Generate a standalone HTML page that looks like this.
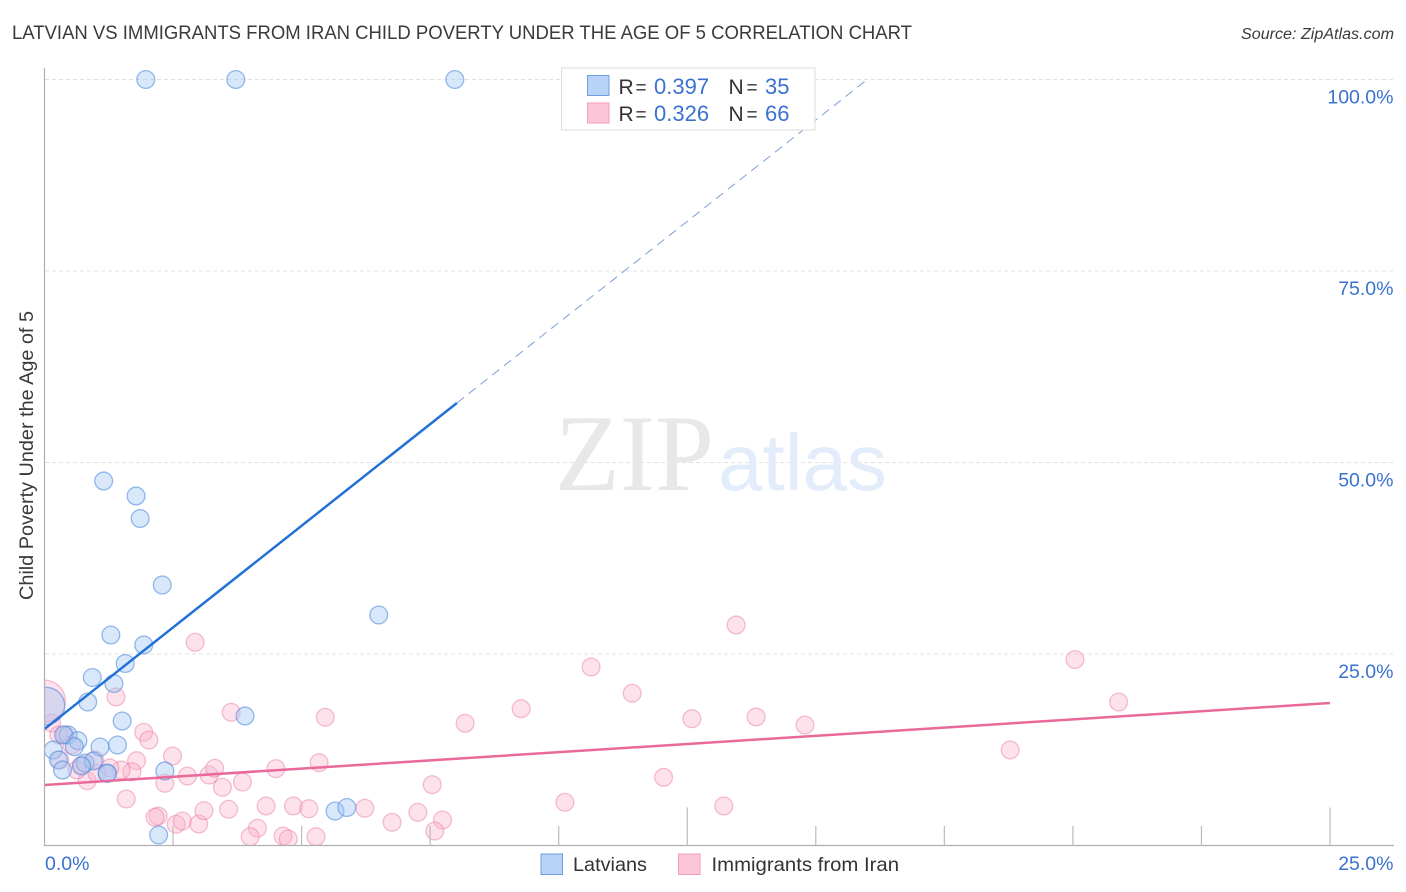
<!DOCTYPE html>
<html lang="en">
<head>
<meta charset="utf-8">
<title>Latvian vs Immigrants from Iran Child Poverty Correlation Chart</title>
<style>
html,body{margin:0;padding:0;background:#fff;}
svg{display:block;font-family:"Liberation Sans",sans-serif;}
</style>
</head>
<body>
<svg id="chart" xmlns="http://www.w3.org/2000/svg" width="1406" height="892" viewBox="0 0 1406 892">
  <defs>
    <clipPath id="plot-clip"><rect x="44.5" y="60" width="1350" height="785.5"/></clipPath>
  </defs>
  <rect x="0" y="0" width="1406" height="892" fill="#fff"/>
  <text x="12" y="39" font-size="19" fill="#3a3a3a" textLength="900" lengthAdjust="spacingAndGlyphs">LATVIAN VS IMMIGRANTS FROM IRAN CHILD POVERTY UNDER THE AGE OF 5 CORRELATION CHART</text>
  <text x="1241" y="39" font-size="15.5" font-style="italic" fill="#3a3a3a" textLength="153" lengthAdjust="spacingAndGlyphs">Source: ZipAtlas.com</text>
  <g id="grid"></g>
  <g>
    <text x="555" y="490" font-family="'Liberation Serif',serif" font-size="109" fill="#e8e8e8" textLength="159" lengthAdjust="spacingAndGlyphs">ZIP</text>
    <text x="718" y="490" font-size="80" fill="#e3ecfa" textLength="169" lengthAdjust="spacingAndGlyphs">atlas</text>
  </g>
  <g id="points" clip-path="url(#plot-clip)"></g>
  <g id="trends"></g>
  <g id="axes"></g>
  <text transform="translate(33,600) rotate(-90)" font-size="19" fill="#3a3a3a" textLength="289" lengthAdjust="spacingAndGlyphs">Child Poverty Under the Age of 5</text>

  <g>
    <rect x="561.5" y="68" width="253.5" height="62" fill="#fff" stroke="#ddd" stroke-width="1"/>
    <rect x="587.5" y="75.5" width="21.5" height="20" fill="#b9d3f7" stroke="#6b9fdf" stroke-width="1"/>
    <text y="94" font-size="21" fill="#333"><tspan x="618.5">R</tspan><tspan x="635.5" font-size="19">=</tspan></text>
    <text x="654" y="94" font-size="22" fill="#3a72d0">0.397</text>
    <text y="94" font-size="21" fill="#333"><tspan x="728.5">N</tspan><tspan x="746.5" font-size="19">=</tspan></text>
    <text x="765" y="94" font-size="22" fill="#3a72d0">35</text>
    <rect x="587.5" y="103" width="21.5" height="20" fill="#fcc6d8" stroke="#f29dbb" stroke-width="1"/>
    <text y="121" font-size="21" fill="#333"><tspan x="618.5">R</tspan><tspan x="635.5" font-size="19">=</tspan></text>
    <text x="654" y="121" font-size="22" fill="#3a72d0">0.326</text>
    <text y="121" font-size="21" fill="#333"><tspan x="728.5">N</tspan><tspan x="746.5" font-size="19">=</tspan></text>
    <text x="765" y="121" font-size="22" fill="#3a72d0">66</text>
  </g>

  <g>
    <g>
      <rect x="541" y="854" width="21.5" height="20.5" fill="#b9d3f7" stroke="#6b9fdf" stroke-width="1"/>
      <text x="573" y="871" font-size="19.5" fill="#333" textLength="74" lengthAdjust="spacingAndGlyphs">Latvians</text>
    </g>
    <g>
      <rect x="678.5" y="854" width="21.5" height="20.5" fill="#fcc6d8" stroke="#f29dbb" stroke-width="1"/>
      <text x="711.5" y="871" font-size="19.5" fill="#333" textLength="187.5" lengthAdjust="spacingAndGlyphs">Immigrants from Iran</text>
    </g>
  </g>
</svg>
<script>
const latvianX = [1.97,3.72,7.98,1.15,1.78,1.86,2.29,6.50,1.29,1.93,1.57,0.93,1.35,0.84,0.03,1.51,3.90,1.42,1.08,0.46,0.37,0.65,0.58,0.17,0.27,0.35,0.79,0.95,0.72,1.22,1.22,2.34,5.65,5.88,2.22];
const latvianY = [100,100,100,47.59,45.63,42.69,34.01,30.09,27.48,26.18,23.76,21.93,21.15,18.73,18.21,16.25,16.91,13.12,12.86,14.43,14.43,13.68,12.90,12.47,11.16,9.86,10.77,11.03,10.38,9.46,9.40,9.73,4.50,4.96,1.37];
const latvianWeight = [1,1,1,1,1,1,1,1,1,1,1,1,1,1,2.1,1,1,1,1,1,1,1,1,1,1,1,1,1,1,1,1,1,1,1,1];

const iranX = [2.49,1.79,1.70,2.34,2.78,3.20,3.31,3.46,3.85,4.50,5.34,1.59,2.21,2.15,2.56,2.68,3.00,3.10,3.58,4.31,4.84,5.14,4.14,4.00,4.64,4.74,5.28,2.93,1.39,3.63,5.46,1.93,2.03,1.49,1.27,0.83,0.63,1.02,0.14,0.28,0.40,0.53,0.30,0.72,0.98,0.00,8.18,9.27,10.63,11.43,12.59,12.04,10.12,7.54,6.23,6.76,7.26,7.74,7.59,13.45,13.84,14.79,13.21,20.04,20.89,18.78];
const iranY = [11.68,11.07,9.63,8.12,9.07,9.20,10.08,7.60,8.29,10.03,10.81,6.07,3.85,3.68,2.77,3.20,2.81,4.54,4.73,5.16,5.16,4.80,2.25,1.15,1.24,0.85,1.15,26.53,19.39,17.39,16.74,14.78,13.77,9.86,10.12,8.46,9.86,9.43,15.99,14.43,14.43,13.12,11.16,10.51,11.16,18.86,15.95,17.86,23.30,19.87,16.55,8.90,5.64,7.94,4.86,3.03,4.33,3.33,1.89,28.79,16.78,15.73,5.16,24.28,18.73,12.47];
const iranWeight = [1,1,1,1,1,1,1,1,1,1,1,1,1,1,1,1,1,1,1,1,1,1,1,1,1,1,1,1,1,1,1,1,1,1,1,1,1,1,1,1,1,1,1,1,1,2.35,1,1,1,1,1,1,1,1,1,1,1,1,1,1,1,1,1,1,1,1];

const latvianTrend = [15.2, 57.77];
const latvianTrendXRange = [0, 8.02];
const latvianTrendExtendX = 16;
const latvianTrendExtendY = 100;
const iranTrend = [7.9, 18.6];
const iranTrendXRange = [0, 25];

const yTickValues = [100, 75, 50, 25];
const yTickLabels = ["100.0%", "75.0%", "50.0%", "25.0%"];
const xTickValues = [2.5, 5, 7.5, 10, 12.5, 15, 17.5, 20, 22.5, 25];
const xTickMajor = [12.5, 25];
const xEndLabels = ["0.0%", "25.0%"];

function xScale(v) { return 44.5 + v / 25 * 1285.5; }
function yScale(v) { return 845.5 - v / 100 * 766; }
function radius(w) { return 8.9 * w; }

const NS = "http://www.w3.org/2000/svg";
function make(tag, attrs, parent) {
  const el = document.createElementNS(NS, tag);
  for (const k in attrs) el.setAttribute(k, attrs[k]);
  parent.appendChild(el);
  return el;
}

const grid = document.getElementById("grid");
const axes = document.getElementById("axes");
const points = document.getElementById("points");
const trends = document.getElementById("trends");

yTickValues.forEach(function (v, i) {
  const line = make("line", {x1: 45, x2: 1393, y1: yScale(v), y2: yScale(v), stroke: "#e0e0e0", "stroke-width": 1, "stroke-dasharray": "4 3"}, grid);
  
  
  const label = make("text", {x: 1393.5, y: yScale(v) + 24, "text-anchor": "end", "font-size": 19.5, fill: "#3a72d0"}, axes);
  
  
  label.textContent = yTickLabels[i];
});

const yAxis = make("line", {x1: 44.5, x2: 44.5, y1: 68, y2: 846, stroke: "#b0b0b0", "stroke-width": 1.2}, axes);


const xAxis = make("line", {x1: 44, x2: 1394, y1: 845.5, y2: 845.5, stroke: "#b0b0b0", "stroke-width": 1.2}, axes);



xTickValues.forEach(function (v) {
  const top = xTickMajor.indexOf(v) >= 0 ? 807.5 : 826;
  const tick = make("line", {x1: xScale(v), x2: xScale(v), y1: top, y2: 845.5, stroke: "#bbb", "stroke-width": 1.2}, axes);
  
  
});

const xLabelLeft = make("text", {x: 45, y: 870, "font-size": 19.5, fill: "#3a72d0"}, axes);


xLabelLeft.textContent = xEndLabels[0];
const xLabelRight = make("text", {x: 1393.5, y: 870, "text-anchor": "end", "font-size": 19.5, fill: "#3a72d0"}, axes);


xLabelRight.textContent = xEndLabels[1];

iranX.forEach(function (v, i) {
  const c = make("circle", {cx: xScale(v), cy: yScale(iranY[i]), r: radius(iranWeight[i]), fill: "#f9b4cc", "fill-opacity": 0.4, stroke: "#ea7ba3", "stroke-opacity": 0.48, "stroke-width": 1.3}, points);
  
  
});
latvianX.forEach(function (v, i) {
  const c = make("circle", {cx: xScale(v), cy: yScale(latvianY[i]), r: radius(latvianWeight[i]), fill: "#a4c6f3", "fill-opacity": 0.42, stroke: "#4f8ddd", "stroke-opacity": 0.6, "stroke-width": 1.3}, points);
  
  
});

const dashed = make("line", {x1: xScale(latvianTrendXRange[1]), y1: yScale(latvianTrend[1]), x2: xScale(latvianTrendExtendX), y2: yScale(latvianTrendExtendY), stroke: "#7d9fd8", "stroke-width": 1, "stroke-dasharray": "9 6"}, trends);


const blueLine = make("line", {x1: xScale(latvianTrendXRange[0]), y1: yScale(latvianTrend[0]), x2: xScale(latvianTrendXRange[1]), y2: yScale(latvianTrend[1]), stroke: "#2271d6", "stroke-width": 2.5}, trends);


const pinkLine = make("line", {x1: xScale(iranTrendXRange[0]), y1: yScale(iranTrend[0]), x2: xScale(iranTrendXRange[1]), y2: yScale(iranTrend[1]), stroke: "#e9699a", "stroke-width": 2.5}, trends);


</script>
</body>
</html>
